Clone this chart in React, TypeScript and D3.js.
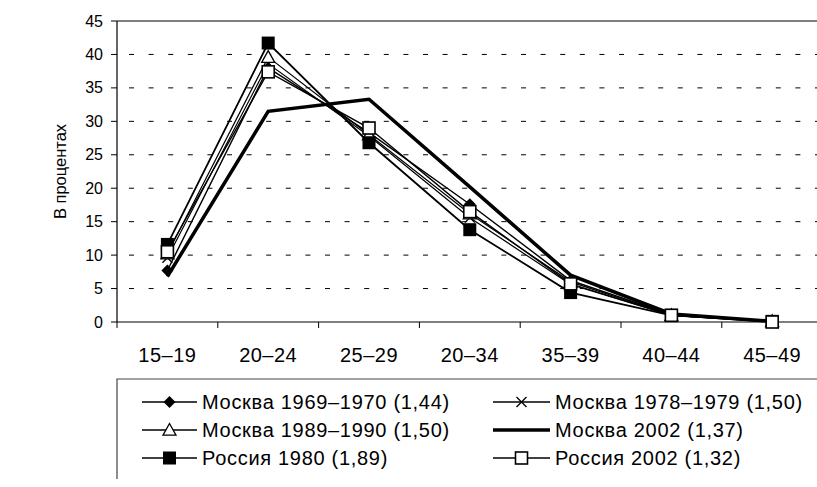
import React from "react";
import * as d3 from "d3";

// age groups (the "20–34" label is as in the source)
const categories = ["15–19", "20–24", "25–29", "20–34", "35–39", "40–44", "45–49"];
const yTicks = [0, 5, 10, 15, 20, 25, 30, 35, 40, 45];

// values in percent
const moscow1969 = [7.7, 38.0, 28.3, 17.6, 6.2, 1.1, 0.1];
const moscow1978 = [9.6, 38.6, 27.8, 15.6, 5.6, 1.0, 0.1];
const moscow1989 = [10.2, 39.6, 28.0, 16.2, 6.0, 1.0, 0.1];
const moscow2002 = [6.8, 31.5, 33.3, 20.2, 7.0, 1.2, 0.1];
const russia1980 = [11.6, 41.7, 26.8, 13.8, 4.4, 1.0, 0.1];
const russia2002 = [10.5, 37.4, 29.0, 16.5, 5.7, 1.0, 0.0];

const seriesNames = [
  "Москва 1969–1970 (1,44)",
  "Москва 1978–1979 (1,50)",
  "Москва 1989–1990 (1,50)",
  "Москва 2002 (1,37)",
  "Россия 1980 (1,89)",
  "Россия 2002 (1,32)",
];

const W = 817;
const H = 487;
const font = "'Liberation Sans', Arial, sans-serif";

type Kind = "diamond" | "cross" | "triangle" | "none" | "filledSquare" | "openSquare";

const series: { name: string; values: number[]; kind: Kind; width: number }[] = [
  { name: seriesNames[0], values: moscow1969, kind: "diamond", width: 1.4 },
  { name: seriesNames[1], values: moscow1978, kind: "cross", width: 1.2 },
  { name: seriesNames[2], values: moscow1989, kind: "triangle", width: 1.2 },
  { name: seriesNames[3], values: moscow2002, kind: "none", width: 3.5 },
  { name: seriesNames[4], values: russia1980, kind: "filledSquare", width: 1.8 },
  { name: seriesNames[5], values: russia2002, kind: "openSquare", width: 1.4 },
];

function Marker({ kind, x, y }: { kind: Kind; x: number; y: number }) {
  //draw one marker centred at x,y
  if (kind === "diamond") {
    const r = 6;
    return <path d={`M${x},${y - r}L${x + r},${y}L${x},${y + r}L${x - r},${y}Z`} fill="#000" />;
  }
  if (kind === "cross") {
    const r = 5;
    return (
      <path d={`M${x - r},${y - r}L${x + r},${y + r}M${x - r},${y + r}L${x + r},${y - r}`} stroke="#000" strokeWidth={1.3} />
    );
  }
  if (kind === "triangle") {
    const r = 6.5;
    return (
      <path d={`M${x},${y - r}L${x + r},${y + r * 0.8}L${x - r},${y + r * 0.8}Z`} fill="#fff" stroke="#000" strokeWidth={1.3} />
    );
  }
  if (kind === "filledSquare") {
    return <rect x={x - 6.5} y={y - 6.5} width={13} height={13} fill="#000" />;
  }
  if (kind === "openSquare") {
    return <rect x={x - 6} y={y - 6} width={12} height={12} fill="#fff" stroke="#000" strokeWidth={1.6} />;
  }
  return null;
}

export default function App() {
  const x = d3.scaleBand().domain(categories).range([117, 117 + 7 * 100.8]);
  const y = d3.scaleLinear().domain([0, 45]).range([322, 21]);
  const cx = (c: string) => (x(c) ?? 0) + x.bandwidth() / 2;

  const line = d3
    .line<number>()
    .x((_, i) => cx(categories[i]))
    .y((d) => y(d));

  const x0 = x.range()[0];
  const xEnd = x.range()[1];

  //legend layout
  const legendTop = 379;
  const rowH = 28;
  const cols = [
    { lx1: 142, lx2: 197, tx: 202 },
    { lx1: 493, lx2: 550, tx: 555 },
  ];

  return (
    <svg width={W} height={H} style={{ position: "absolute", left: 0, top: 0 }} fontFamily={font}>
      <rect width={W} height={H} fill="#fff" />

      {/* grid lines */}
      {yTicks.slice(1, -1).map((t) => (
        <line key={t} x1={x0} x2={xEnd} y1={y(t)} y2={y(t)} stroke="#000" strokeWidth={1} strokeDasharray="5 14.6" strokeDashoffset={-12} />
      ))}
      <line x1={x0} x2={xEnd} y1={y(45)} y2={y(45)} stroke="#000" strokeWidth={1} />

      {/* y axis */}
      <line x1={x0} x2={x0} y1={y(45)} y2={y(0)} stroke="#000" strokeWidth={1.2} />
      {yTicks.map((t) => (
        <g key={t}>
          <line x1={x0 - 6} x2={x0} y1={y(t)} y2={y(t)} stroke="#000" strokeWidth={1} />
          <text x={x0 - 14} y={y(t)} dy="0.35em" textAnchor="end" fontSize={16}>
            {t}
          </text>
        </g>
      ))}
      <text transform={`translate(66,${(y(45) + y(0)) / 2}) rotate(-90)`} textAnchor="middle" fontSize={16.5}>
        В процентах
      </text>

      {/* x axis */}
      <line x1={x0} x2={xEnd} y1={y(0)} y2={y(0)} stroke="#000" strokeWidth={1.2} />
      {categories.map((c, i) => (
        <g key={c + i}>
          <line x1={x(c)} x2={x(c)} y1={y(0)} y2={y(0) + 6} stroke="#000" strokeWidth={1} />
          <text x={cx(c)} y={y(0) + 40} textAnchor="middle" fontSize={20} letterSpacing={0.5}>
            {c}
          </text>
        </g>
      ))}

      {/* series */}
      {series.map((s) => (
        <g key={s.name}>
          <path d={line(s.values) ?? ""} fill="none" stroke="#000" strokeWidth={s.width} strokeLinejoin="miter" />
          {s.values.map((v, i) => (
            <Marker key={i} kind={s.kind} x={cx(categories[i])} y={y(v)} />
          ))}
        </g>
      ))}

      {/* legend */}
      <path d={`M${W + 5},${legendTop}H${x0}V${legendTop + 100}`} fill="none" stroke="#444" strokeWidth={1.2} />
      {series.map((s, i) => {
        const col = cols[i % 2];
        const ly = legendTop + 23 + Math.floor(i / 2) * rowH;
        return (
          <g key={s.name}>
            <line x1={col.lx1} x2={col.lx2} y1={ly} y2={ly} stroke="#000" strokeWidth={s.kind === "none" ? 3.5 : 1.4} />
            <Marker kind={s.kind} x={(col.lx1 + col.lx2) / 2} y={ly} />
            <text x={col.tx} y={ly} dy="0.36em" fontSize={20} letterSpacing={0.7}>
              {s.name}
            </text>
          </g>
        );
      })}
    </svg>
  );
}
